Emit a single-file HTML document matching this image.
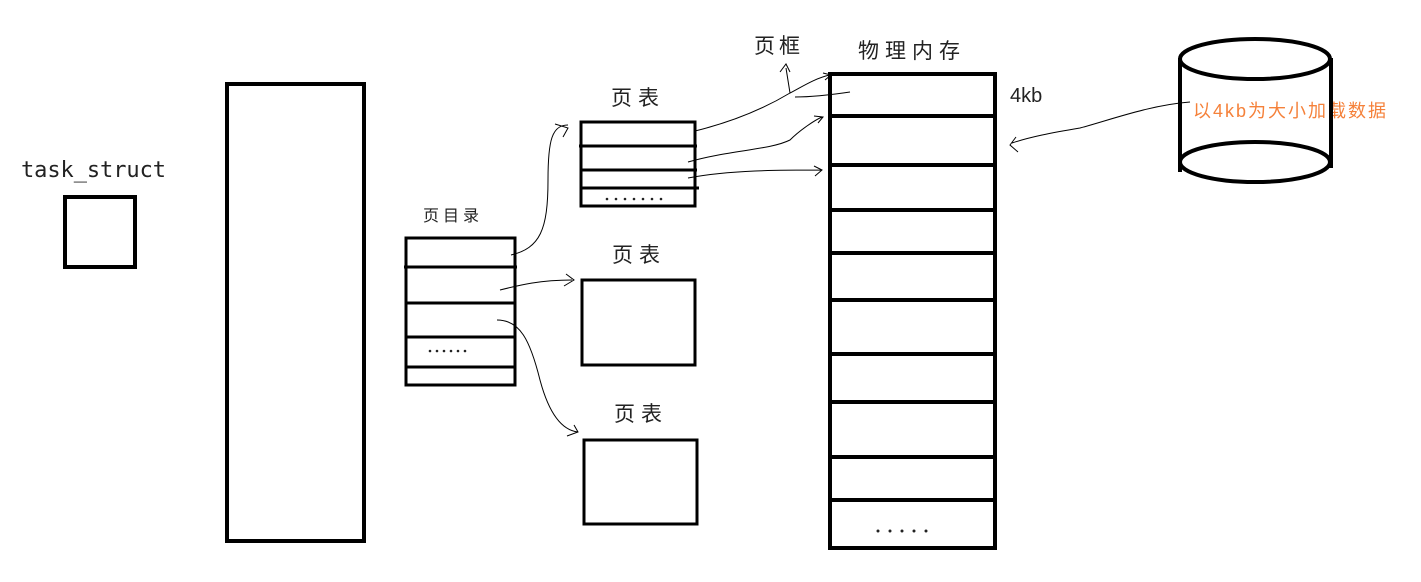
<!DOCTYPE html>
<html><head><meta charset="utf-8"><style>
html,body{margin:0;padding:0;background:#fff;}
svg{display:block;}
</style></head><body>
<svg width="1421" height="582" viewBox="0 0 1421 582" xmlns="http://www.w3.org/2000/svg">
<g font-family="'Liberation Sans','Noto Sans CJK SC',sans-serif" fill="#222">
<text x="21" y="177" font-family="'DejaVu Sans Mono','Liberation Mono',monospace" font-size="22" textLength="145">task_struct</text>
<text x="423" y="221" font-size="16" letter-spacing="4">页目录</text>
<text x="611" y="105" font-size="21" letter-spacing="6">页表</text>
<text x="612" y="262" font-size="21" letter-spacing="6">页表</text>
<text x="614" y="421" font-size="21" letter-spacing="6">页表</text>
<text x="754" y="53" font-size="21" letter-spacing="4">页框</text>
<text x="858" y="58" font-size="21" letter-spacing="6">物理内存</text>
<text x="1010" y="102" font-size="20">4kb</text>
<text x="1193" y="117" font-size="18" fill="#f5813a" letter-spacing="2">以4kb为大小加载数据</text>
</g>
<g fill="none" stroke="#000" stroke-width="4">
<rect x="65" y="197" width="70" height="70"/>
<rect x="227" y="84" width="137" height="457"/>
<rect x="406" y="238" width="109" height="147" stroke-width="3"/>
<path d="M404 267H517M406 303H515M406 337H515M406 367H515" stroke-width="3"/>
<rect x="581" y="122" width="114" height="84" stroke-width="3"/>
<path d="M579 146H697M581 170H697M581 188H699" stroke-width="3"/>
<rect x="582" y="280" width="113" height="85" stroke-width="3"/>
<rect x="584" y="440" width="113" height="84" stroke-width="3"/>
<rect x="830" y="74" width="165" height="474"/>
<path d="M830 116H997M830 165H997M830 210H997M830 253H997M830 300H997M828 354H995M830 402H995M830 457H995M830 500H995"/>
<ellipse cx="1255" cy="59" rx="75" ry="20"/>
<ellipse cx="1255" cy="162" rx="75" ry="20"/>
<path d="M1180 58V172M1331 58V168"/>
</g>
<g fill="#222">
<circle cx="430" cy="351" r="1.3"/><circle cx="437" cy="351" r="1.3"/><circle cx="444" cy="351" r="1.3"/><circle cx="451" cy="351" r="1.3"/><circle cx="458" cy="351" r="1.3"/><circle cx="485" cy="351" r="0"/><circle cx="465" cy="351" r="1.3"/>
<circle cx="607" cy="199" r="1.3"/><circle cx="616" cy="199" r="1.3"/><circle cx="625" cy="199" r="1.3"/><circle cx="634" cy="199" r="1.3"/><circle cx="643" cy="199" r="1.3"/><circle cx="652" cy="199" r="1.3"/><circle cx="661" cy="199" r="1.3"/>
<circle cx="878" cy="531" r="1.5"/><circle cx="890" cy="531" r="1.5"/><circle cx="902" cy="531" r="1.5"/><circle cx="914" cy="531" r="1.5"/><circle cx="926" cy="531" r="1.5"/>
</g>
<g fill="none" stroke="#000" stroke-width="1">
<path d="M511 255C540 248 548 230 548 180C548 140 552 125 568 125M555 124L568 128L563 137"/>
<path d="M500 290C520 285 540 280 572 280M566 274L574 280L564 286"/>
<path d="M497 320C520 320 530 340 540 380C548 410 560 430 578 432M574 425L578 432L567 436"/>
<path d="M695 131C740 120 770 105 790 93C800 88 815 78 830 75M823 73L831 75L825 80"/>
<path d="M790 93L786 68M780 72L786 64L790 72"/>
<path d="M795 97C810 97 830 95 850 92"/>
<path d="M688 162C730 150 770 150 790 140C800 130 815 120 822 117M814 116L823 117L818 123"/>
<path d="M688 178C730 170 780 170 822 170M814 166L822 170L815 176"/>
<path d="M1190 102C1150 105 1110 120 1080 128C1050 133 1030 137 1012 143M1016 137L1010 145L1018 152"/>
</g>
</svg>
</body></html>
